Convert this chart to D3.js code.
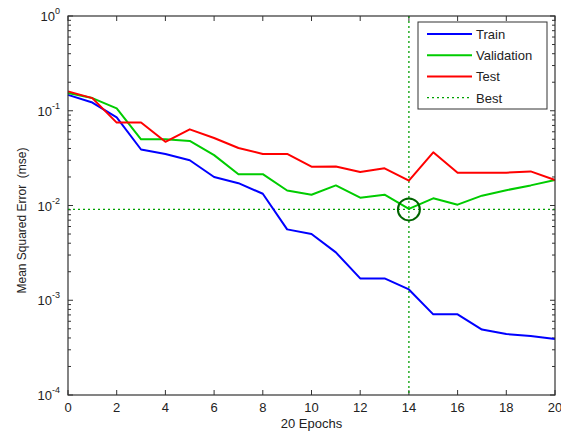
<!DOCTYPE html>
<html>
<head>
<meta charset="utf-8">
<script src="https://cdn.jsdelivr.net/npm/d3@7.9.0/dist/d3.min.js"></script>
<style>
  body { margin: 0; background: #fff; }
  svg { font-family: "Liberation Sans", Arial, sans-serif; }
</style>
</head>
<body>
<svg id="chart" width="561" height="434"></svg>
<script>
// ---------- data ----------
const epochs = d3.range(0, 21);

const train = [0.147, 0.122, 0.085, 0.039, 0.035, 0.030, 0.020, 0.0172, 0.0133, 0.0056,
  0.0050, 0.0032, 0.0017, 0.0017, 0.0013, 0.00071, 0.00071, 0.00049, 0.00044, 0.00042, 0.00039];

const validation = [0.154, 0.136, 0.106, 0.050, 0.050, 0.048, 0.034, 0.0214, 0.0214, 0.0144,
  0.0130, 0.0163, 0.0121, 0.0130, 0.0092, 0.0119, 0.0102, 0.0127, 0.0145, 0.0163, 0.0186];

const test = [0.160, 0.136, 0.075, 0.075, 0.047, 0.0636, 0.0516, 0.0404, 0.035, 0.035,
  0.0257, 0.0258, 0.0226, 0.0247, 0.0183, 0.0364, 0.0222, 0.0222, 0.0222, 0.0229, 0.0186];

const bestEpoch = 14;
const bestValue = 0.0091;

const xTicks = [0, 2, 4, 6, 8, 10, 12, 14, 16, 18, 20];
const yDecades = [-4, -3, -2, -1, 0];

const legendItems = [
  { name: "Train", color: "#0000ff", dash: null },
  { name: "Validation", color: "#00cc00", dash: null },
  { name: "Test", color: "#ff0000", dash: null },
  { name: "Best", color: "#00a000", dash: "2,3" }
];

// ---------- layout ----------
const margin = { left: 68, right: 6, top: 16, bottom: 39 };
const W = 561, H = 434;
const innerW = W - margin.left - margin.right;
const innerH = H - margin.top - margin.bottom;

const svg = d3.select("#chart");
const g = svg.append("g").attr("transform", `translate(${margin.left},${margin.top})`);

const x = d3.scaleLinear().domain([0, 20]).range([0, innerW]);
const y = d3.scaleLog().domain([1e-4, 1]).range([innerH, 0]);

const axisColor = "#333";

// ---------- ticks (MATLAB style: inside, on all sides) ----------
const minorVals = [];
for (let e = -4; e < 0; e++) {
  for (let k = 2; k <= 9; k++) minorVals.push(k * Math.pow(10, e));
}

const ticks = g.append("g").attr("stroke", axisColor).attr("stroke-width", 1);
xTicks.forEach(t => {
  ticks.append("line").attr("x1", x(t)).attr("x2", x(t)).attr("y1", innerH).attr("y2", innerH - 5);
  ticks.append("line").attr("x1", x(t)).attr("x2", x(t)).attr("y1", 0).attr("y2", 5);
});
yDecades.forEach(d => {
  const yy = y(Math.pow(10, d));
  ticks.append("line").attr("x1", 0).attr("x2", 5).attr("y1", yy).attr("y2", yy);
  ticks.append("line").attr("x1", innerW).attr("x2", innerW - 5).attr("y1", yy).attr("y2", yy);
});
minorVals.forEach(v => {
  const yy = y(v);
  ticks.append("line").attr("x1", 0).attr("x2", 3).attr("y1", yy).attr("y2", yy);
  ticks.append("line").attr("x1", innerW).attr("x2", innerW - 3).attr("y1", yy).attr("y2", yy);
});

// tick labels
g.append("g").selectAll("text").data(xTicks).join("text")
  .attr("x", d => x(d)).attr("y", innerH + 17)
  .attr("text-anchor", "middle").attr("font-size", 13).attr("fill", "#222")
  .text(d => d);

const yl = g.append("g").selectAll("text").data(yDecades).join("text")
  .attr("x", -8).attr("y", d => y(Math.pow(10, d)) + 5)
  .attr("text-anchor", "end").attr("font-size", 13).attr("fill", "#222");
yl.append("tspan").text("10");
yl.append("tspan").attr("dy", -7).attr("font-size", 9).text(d => d);

// axis labels
svg.append("text")
  .attr("x", margin.left + innerW / 2).attr("y", 428)
  .attr("text-anchor", "middle").attr("font-size", 13).attr("fill", "#222")
  .text("20 Epochs");

svg.append("text")
  .attr("transform", `translate(26,${margin.top + innerH / 2 + 15}) rotate(-90)`)
  .attr("text-anchor", "middle").attr("font-size", 12).attr("fill", "#222")
  .attr("xml:space", "preserve")
  .text("Mean Squared Error  (mse)");

// ---------- best lines ----------
const bestColor = "#00a000";
g.append("line")
  .attr("x1", x(bestEpoch)).attr("x2", x(bestEpoch)).attr("y1", 0).attr("y2", innerH)
  .attr("stroke", bestColor).attr("stroke-width", 1.3).attr("stroke-dasharray", "2,3");
g.append("line")
  .attr("x1", 0).attr("x2", innerW).attr("y1", y(bestValue)).attr("y2", y(bestValue))
  .attr("stroke", bestColor).attr("stroke-width", 1.3).attr("stroke-dasharray", "2,3");

// ---------- series ----------
const line = d3.line().x((d, i) => x(epochs[i])).y(d => y(d));
[[train, "#0000ff"], [validation, "#00cc00"], [test, "#ff0000"]].forEach(([data, color]) => {
  g.append("path").datum(data)
    .attr("d", line).attr("fill", "none")
    .attr("stroke", color).attr("stroke-width", 2).attr("stroke-linejoin", "round");
});

// best circle
g.append("circle")
  .attr("cx", x(bestEpoch)).attr("cy", y(bestValue)).attr("r", 11)
  .attr("fill", "none").attr("stroke", "#006400").attr("stroke-width", 2);

// frame
g.append("rect").attr("width", innerW).attr("height", innerH)
  .attr("fill", "none").attr("stroke", axisColor).attr("stroke-width", 1.2);

// ---------- legend ----------
const lg = svg.append("g").attr("transform", "translate(418,22)");
lg.append("rect").attr("width", 129).attr("height", 87)
  .attr("fill", "#fff").attr("stroke", axisColor).attr("stroke-width", 1);
legendItems.forEach((d, i) => {
  const yy = 12 + i * 21.2;
  lg.append("line").attr("x1", 9).attr("x2", 54).attr("y1", yy).attr("y2", yy)
    .attr("stroke", d.color).attr("stroke-width", d.dash ? 1.3 : 2)
    .attr("stroke-dasharray", d.dash);
  lg.append("text").attr("x", 58).attr("y", yy + 5)
    .attr("font-size", 13).attr("fill", "#222").text(d.name);
});
</script>
</body>
</html>
